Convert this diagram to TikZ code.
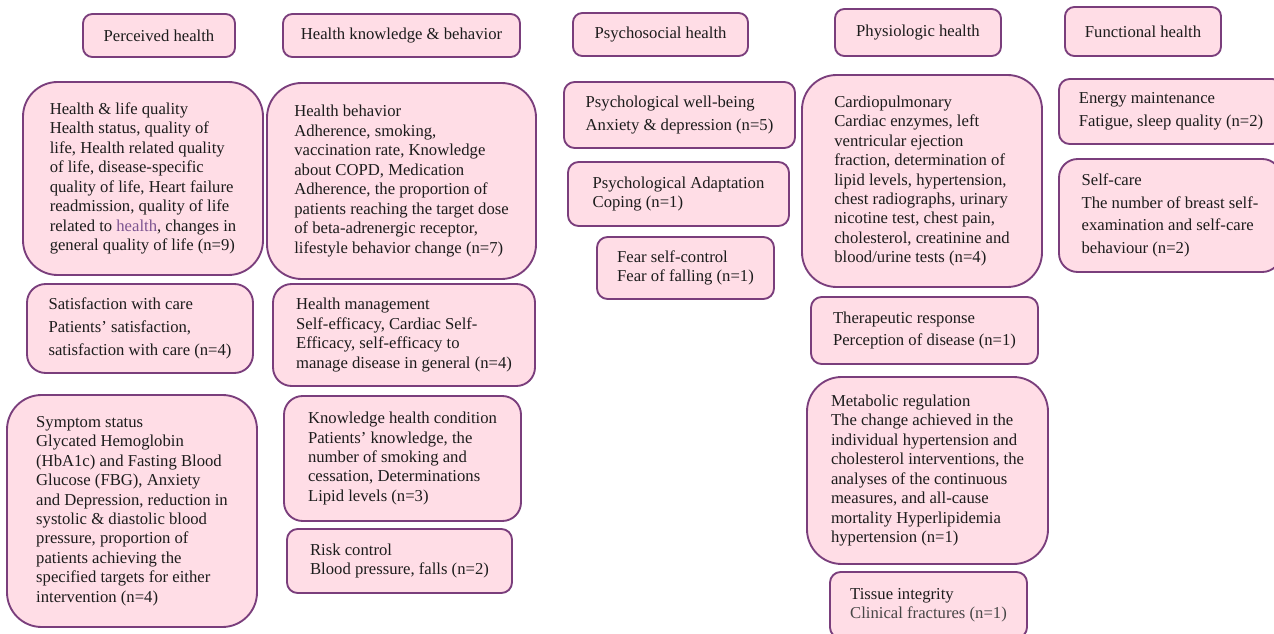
\documentclass[tikz,border=0pt]{standalone}
\usepackage{fontspec}
\setmainfont{Liberation Serif}
\usepackage{xcolor}
\definecolor{pinkfill}{RGB}{255,221,230}
\definecolor{purpleline}{RGB}{122,62,124}
\definecolor{linkpurple}{RGB}{125,85,145}
\definecolor{inktext}{RGB}{28,28,28}
\definecolor{greytext}{RGB}{70,70,70}
\tikzstyle{box}=[draw=purpleline, fill=pinkfill, line width=1.4pt, inner sep=0pt, align=left, text=inktext, font=\fontsize{12.5}{14.6}\selectfont]
\tikzset{boxsize/.style 2 args={minimum width=#1*0.75pt, minimum height=#2*0.75pt}}
\tikzset{wide/.style={font=\fontsize{12.5}{17}\selectfont}}
\tikzset{head/.style={box, rounded corners=7pt}}
\tikzset{small/.style={rounded corners=8pt}}
\tikzset{mid/.style={rounded corners=14pt}}
\tikzset{big/.style={rounded corners=26pt}}

\begin{document}
\begin{tikzpicture}[x=0.75pt, y=-0.75pt]
  \useasboundingbox (0,0) rectangle (1274,634);
  \fill[white] (0,0) rectangle (1274,634);
  \clip (0,0) rectangle (1274,634);

  %% Headers
  \draw (159,35.5) node[head,boxsize={152}{43}] (H1) {Perceived health};
  \draw (401.5,35.5) node[head,boxsize={237}{43}] (H2) {Health knowledge \& behavior};
  \draw (660.5,34.5) node[head,boxsize={175}{43}] (H3) {Psychosocial health};
  \draw (918,32.5) node[head,boxsize={166}{47}] (H4) {Physiologic health};
  \draw (1143,31.5) node[head,boxsize={156}{49}] (H5) {Functional health};

  %% Perceived health
  \draw (143,178.5) node[box,big,boxsize={240}{193}] (C11) {Health \& life quality\\
    Health status, quality of\\
    life, Health related quality\\
    of life, disease-specific\\
    quality of life, Heart failure\\
    readmission, quality of life\\
    related to \textcolor{linkpurple}{health}, changes in\\
    general quality of life (n=9)};
  \draw (140,328.5) node[box,mid,wide,boxsize={226}{89}] (C12) {Satisfaction with care\\
    Patients’ satisfaction,\\
    satisfaction with care (n=4)};
  \draw (132,511) node[box,big,boxsize={250}{232}] (C13) {Symptom status\\
    Glycated Hemoglobin\\
    (HbA1c) and Fasting Blood\\
    Glucose (FBG), Anxiety\\
    and Depression, reduction in\\
    systolic \& diastolic blood\\
    pressure, proportion of\\
    patients achieving the\\
    specified targets for either\\
    intervention (n=4)};

  %% Health knowledge & behavior
  \draw (401.5,181) node[box,big,boxsize={269}{196}] (C21) {Health behavior\\
    Adherence, smoking,\\
    vaccination rate, Knowledge\\
    about COPD, Medication\\
    Adherence, the proportion of\\
    patients reaching the target dose\\
    of beta-adrenergic receptor,\\
    lifestyle behavior change (n=7)};
  \draw (404,335) node[box,mid,boxsize={262}{102}] (C22) {Health management\\
    Self-efficacy, Cardiac Self-\\
    Efficacy, self-efficacy to\\
    manage disease in general (n=4)};
  \draw (402.5,458.5) node[box,mid,boxsize={237}{125}] (C23) {Knowledge health condition\\
    Patients’ knowledge, the\\
    number of smoking and\\
    cessation, Determinations\\
    Lipid levels (n=3)};
  \draw (399.5,561) node[box,small,boxsize={225}{64}] (C24) {Risk control\\
    Blood pressure, falls (n=2)};

  %% Psychosocial health
  \draw (679.5,115) node[box,small,wide,boxsize={231}{66}] (C31) {Psychological well-being\\
    Anxiety \& depression (n=5)};
  \draw (678.5,194) node[box,small,boxsize={221}{64}] (C32) {Psychological Adaptation\\
    Coping (n=1)};
  \draw (685.5,268) node[box,small,boxsize={177}{62}] (C33) {Fear self-control\\
    Fear of falling (n=1)};

  %% Physiologic health
  \draw (922,181) node[box,big,boxsize={240}{212}] (C41) {Cardiopulmonary\\
    Cardiac enzymes, left\\
    ventricular ejection\\
    fraction, determination of\\
    lipid levels, hypertension,\\
    chest radiographs, urinary\\
    nicotine test, chest pain,\\
    cholesterol, creatinine and\\
    blood/urine tests (n=4)};
  \draw (924.5,330.5) node[box,small,wide,boxsize={227}{67}] (C42) {Therapeutic response\\
    Perception of disease (n=1)};
  \draw (927.5,470.5) node[box,big,boxsize={241}{187}] (C43) {Metabolic regulation\\
    The change achieved in the\\
    individual hypertension and\\
    cholesterol interventions, the\\
    analyses of the continuous\\
    measures, and all-cause\\
    mortality Hyperlipidemia\\
    hypertension (n=1)};
  \draw (928.5,605) node[box,small,boxsize={197}{66}] (C44) {Tissue integrity\\
    \textcolor{greytext}{Clinical fractures (n=1)}};

  %% Functional health
  \draw (1171,111.5) node[box,small,wide,boxsize={224}{65}] (C51) {Energy maintenance\\
    Fatigue, sleep quality (n=2)};
  \draw (1170,215.5) node[box,mid,wide,boxsize={222}{113}] (C52) {Self-care\\
    The number of breast self-\\
    examination and self-care\\
    behaviour (n=2)};
\end{tikzpicture}
\end{document}
